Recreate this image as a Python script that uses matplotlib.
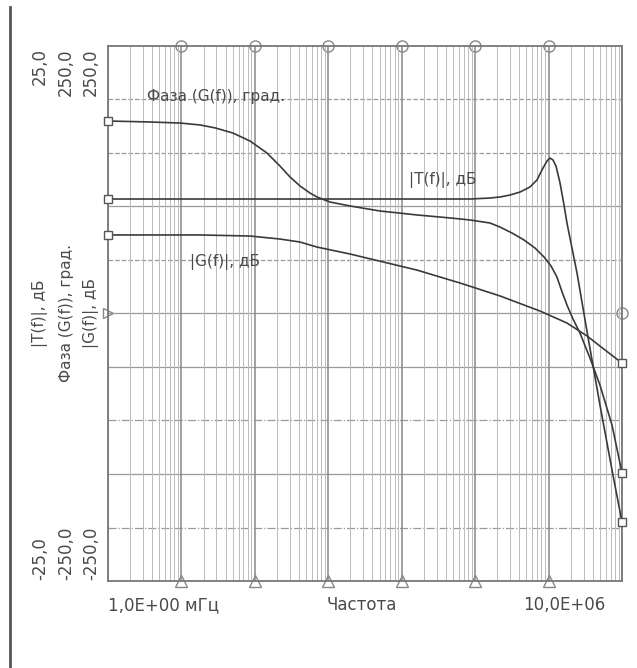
import numpy as np
import matplotlib
matplotlib.use("Agg")
import matplotlib.pyplot as plt

plt.rcParams["font.family"] = ["DejaVu Sans"]
plt.rcParams["font.size"] = 11

# ===================== данные =====================
# частота, Гц
f_phase = [1, 3.7, 9.6, 18, 29, 50, 86, 146, 220, 301, 412, 563, 702, 1055,
           1977, 5060, 16100, 45500, 85100, 1.59e5, 2.18e5, 3.18e5, 4.63e5,
           6.53e5, 8.66e5, 1.08e6, 1.30e6, 1.52e6, 1.78e6, 2.15e6, 2.68e6,
           3.66e6, 5.01e6, 7.31e6, 1e7]
phase = [179.9, 179.0, 178.0, 176.2, 173.4, 168.7, 161.2, 150.0, 137.8, 127.6,
         119.2, 112.6, 108.9, 104.2, 100.5, 95.8, 92.1, 89.3, 87.4, 84.6, 80.8,
         75.2, 68.7, 61.2, 52.8, 44.4, 34.1, 20.5, 7.9, -5.1, -18.3,
         -41.6, -66.9, -104.2, -149.1]             # град.

f_g = [1, 18, 86, 220, 412, 702, 1977, 16100, 62200, 2.18e5, 7.64e5,
       1.78e6, 3.34e6, 5.87e6, 1e7]
g_db = [73.4, 73.4, 72.4, 69.6, 66.8, 62.1, 55.6, 40.6, 28.5, 16.4, 2.3,
        -8.9, -21.0, -34.1, -46.3]                 # дБ (шкала 250)

f_t = [1, 85100, 1.59e5, 2.18e5, 2.98e5, 4.08e5, 5.58e5, 6.95e5, 8.40e5,
       9.52e5, 1.045e6, 1.148e6, 1.262e6, 1.432e6, 1.623e6, 1.78e6, 2.44e6,
       3.44e6, 5.01e6, 7.31e6, 1e7]
t_db = [10.70, 10.70, 10.79, 10.89, 11.07, 11.35, 11.82, 12.48, 13.60,
        14.25, 14.53, 14.35, 13.78, 12.20, 10.14, 8.46, 3.78,
        -2.20, -8.55, -14.63, -19.49]              # дБ (шкала 25)

ylab_top = ["25,0", "250,0", "250,0"]
ylab_bot = ["-25,0", "-250,0", "-250,0"]
ylab_mid = ["|T(f)|, дБ", "Фаза (G(f)), град.", "|G(f)|, дБ"]

# ===================== рисунок =====================
W, H = 637, 668
fig = plt.figure(figsize=(W / 100, H / 100), dpi=100)
ax = fig.add_axes([108 / W, 1 - 581 / H, (622 - 108) / W, (581 - 46) / H])

ax.set_xscale("log")
ax.set_xlim(1, 1e7)
ax.set_ylim(-250, 250)

grid_c = "#9a9a9a"
ax.set_xticks(np.logspace(0, 7, 8))
ax.grid(True, which="major", axis="x", color="#888888", lw=1.1)
ax.grid(True, which="minor", axis="x", color="#bbbbbb", lw=0.7)
ax.tick_params(which="both", length=0, labelbottom=False, labelleft=False)
ax.set_yticks([])

# горизонтальная сетка
h_styles = ["--", "--", "-", "--", "-", "-", "-.", "-", "-."]
for yv, ls in zip(np.arange(200, -250, -50), h_styles):
    ax.axhline(yv, color=grid_c, lw=0.9, ls=ls, zorder=1)

for s in ax.spines.values():
    s.set_color("#777777")
    s.set_linewidth(1.3)

line_c = "#3a3a3a"
kw = dict(color=line_c, lw=1.2, marker="s", ms=6, mfc="white", mec="#555555",
          markevery=[0, -1], clip_on=False, zorder=3)
ax.plot(f_phase, phase, **kw)
ax.plot(f_g, g_db, **kw)
ax.plot(f_t, np.array(t_db) * 10, **kw)

# метки на рамке
dec = np.logspace(1, 6, 6)
ax.plot(dec, [250] * len(dec), ls="none", marker="o", ms=8, mfc="white",
        mec="#888888", clip_on=False, zorder=0.5)
ax.plot(dec, [-250] * len(dec), ls="none", marker="^", ms=8, mfc="white",
        mec="#888888", clip_on=False, zorder=0.5)
ax.plot([1], [0], ls="none", marker=">", ms=7, mfc="white", mec="#888888",
        clip_on=False, zorder=0.5)
ax.plot([1e7], [0], ls="none", marker="o", ms=8, mfc="white", mec="#888888",
        clip_on=False, zorder=0.5)

txt_c = "#4a4a4a"
ax.text(147 / W, 1 - 97 / H, "Фаза (G(f)), град.", transform=fig.transFigure,
        va="center", ha="left", color=txt_c)
ax.text(409 / W, 1 - 180 / H, "|T(f)|, дБ", transform=fig.transFigure,
        va="center", ha="left", color=txt_c)
ax.text(190 / W, 1 - 262 / H, "|G(f)|, дБ", transform=fig.transFigure,
        va="center", ha="left", color=txt_c)

# подписи оси Y
cols = [40, 66, 91]
for x, t1, t2, t3 in zip(cols, ylab_top, ylab_bot, ylab_mid):
    fig.text(x / W, 1 - 48 / H, t1, rotation=90, ha="center", va="top",
             color=txt_c, fontsize=12)
    fig.text(x / W, 1 - 580 / H, t2, rotation=90, ha="center", va="bottom",
             color=txt_c, fontsize=12)
    fig.text(x / W, 1 - 313 / H, t3, rotation=90, ha="center", va="center",
             color=txt_c, fontsize=11)

# подписи оси X
fig.text(108 / W, 1 - 605 / H, "1,0E+00 мГц", ha="left", va="center",
         color=txt_c, fontsize=12)
fig.text(362 / W, 1 - 605 / H, "Частота", ha="center", va="center",
         color=txt_c, fontsize=12)
fig.text(605 / W, 1 - 605 / H, "10,0E+06", ha="right", va="center",
         color=txt_c, fontsize=12)

# левая линия рамки листа
fig.add_artist(plt.Line2D([10 / W, 10 / W], [0, 1 - 7 / H],
                          transform=fig.transFigure, color="#555555", lw=2))

fig.savefig("out.png", dpi=100)
